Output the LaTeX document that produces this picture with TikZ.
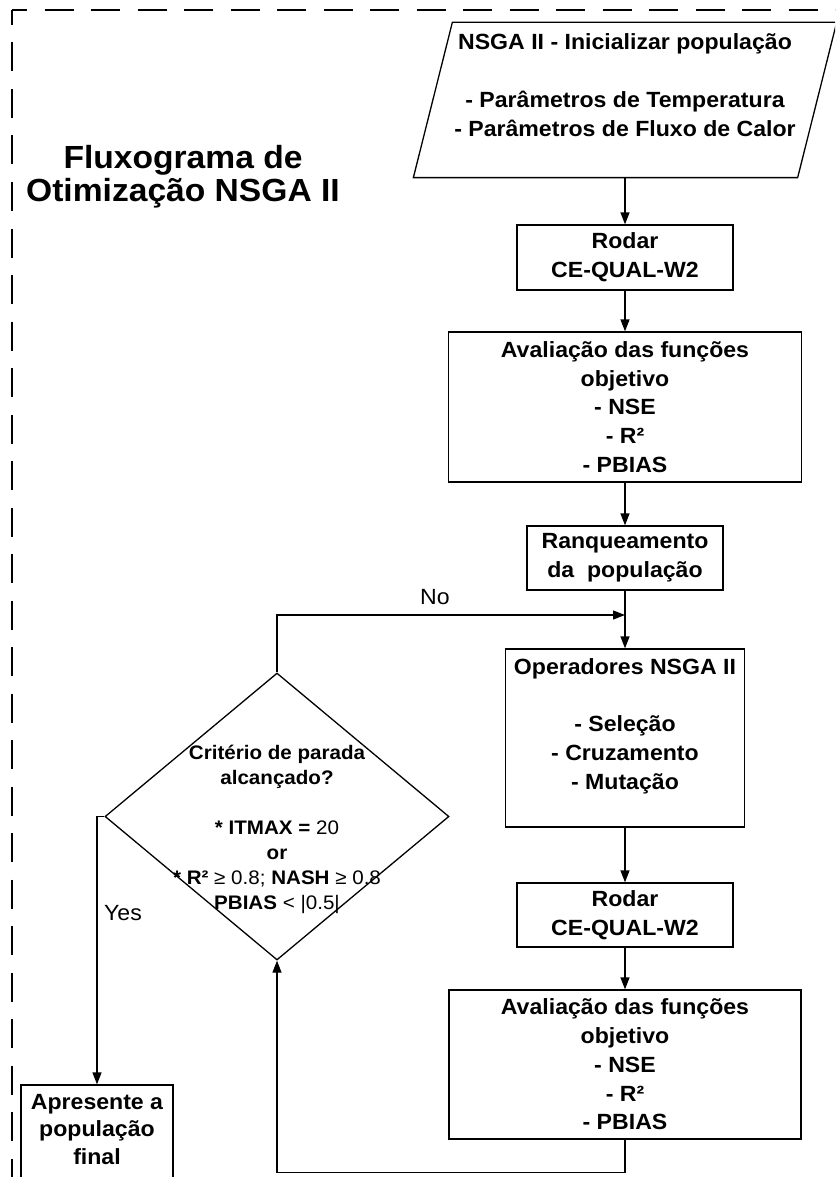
\documentclass[tikz,border=0pt]{standalone}
\usepackage{fontspec}
\setmainfont{Liberation Sans}[FakeStretch=1.05]
\usetikzlibrary{shapes.geometric,arrows.meta,calc}

\begin{document}
\begin{tikzpicture}[x=1pt,y=-1pt,
  line width=1.3pt,
  every node/.style={inner sep=0pt},
  proc/.style={draw, line width=1.3pt, align=center,
    font=\fontsize{22}{28.75}\selectfont\bfseries},
  flow/.style={-{Triangle[length=12pt,width=9pt]}},
  lbl/.style={font=\fontsize{22}{24}\selectfont},
  frame/.style={line width=1.3pt, dash pattern=on 29pt off 17.5pt, dash phase=14pt}
]
\useasboundingbox (0,0) rectangle (835,1177);
\clip (0,0) rectangle (835,1177);

% dashed outer frame
\draw[frame] (12,10) -- (860,10);
\draw[frame] (12,10) -- (12,1200);

% title
\node[font=\fontsize{32}{33}\selectfont\bfseries, align=center] (title) at (183,177)
  {Fluxograma de\\Otimização NSGA II};

% input parallelogram
\node[minimum width=422pt, minimum height=154pt, align=center,
  font=\fontsize{22}{29}\selectfont\bfseries] (init) at (625,100)
  {NSGA II - Inicializar população\\\mbox{}\\- Parâmetros de Temperatura\\- Parâmetros de Fluxo de Calor\\\mbox{}};
\draw ([xshift=39pt]init.north west) -- (init.north east)
  -- ([xshift=-39pt]init.south east) -- (init.south west) -- cycle;

% process boxes
\node[proc, minimum width=216pt, minimum height=65pt] (run1) at (625,257.5) {Rodar\\CE-QUAL-W2};
\node[proc, minimum width=353pt, minimum height=150pt] (eval1) at (625,407)
  {Avaliação das funções\\objetivo\\- NSE\\- R²\\- PBIAS};
\node[proc, minimum width=196pt, minimum height=64pt] (rank) at (625,558)
  {Ranqueamento\\da\ \ população};
\node[proc, minimum width=239pt, minimum height=178pt] (ops) at (625,738)
  {Operadores NSGA II\\\mbox{}\\- Seleção\\- Cruzamento\\- Mutação\\\mbox{}};
\node[proc, minimum width=216pt, minimum height=64pt] (run2) at (625,915) {Rodar\\CE-QUAL-W2};
\node[proc, minimum width=352pt, minimum height=149pt] (eval2) at (625,1064.5)
  {Avaliação das funções\\objetivo\\- NSE\\- R²\\- PBIAS};
\node[proc, minimum width=152pt, minimum height=116pt,
  font=\fontsize{22}{27.5}\selectfont\bfseries] (final) at (97,1143)
  {Apresente a\\população\\final\\\mbox{}};

% stopping criterion
\node[draw, diamond, minimum width=344pt, minimum height=287pt,
  label={[align=center, yshift=-8pt, font=\fontsize{19.6}{25}\selectfont\bfseries]center:{\mbox{}\\Critério de parada\\alcançado?\\\mbox{}\\* ITMAX = {\mdseries 20}\\or\\* R² {\mdseries ≥ 0.8;} NASH {\mdseries ≥ 0.8}\\PBIAS {\mdseries < |0.5|}}}]
  (stop) at (277,816.5) {};

\coordinate (join) at (625,615);

% connectors
\draw[flow] (init.south) -- (run1.north);
\draw[flow] (run1.south) -- (eval1.north);
\draw[flow] (eval1.south) -- (rank.north);
\draw[flow] (rank.south) -- (ops.north);
\draw[flow] (ops.south) -- (run2.north);
\draw[flow] (run2.south) -- (eval2.north);
\draw[flow] (eval2.south) -- ++(0,33) -| (stop.south);
\draw[flow] (stop.north) |- (join);
\draw[flow] (stop.west) -- (stop.west -| final.north) -- (final.north);

\node[lbl] (no) at (435,597) {No};
\node[lbl] (yes) at (123,913) {Yes};
\end{tikzpicture}
\end{document}
